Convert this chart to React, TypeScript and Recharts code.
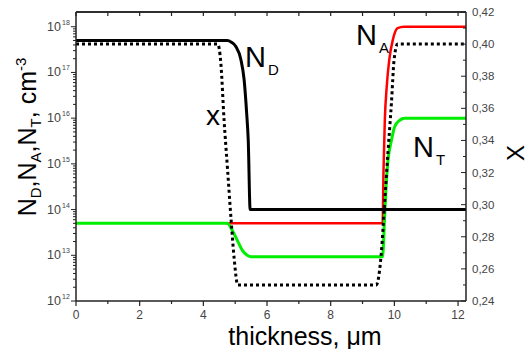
import { LineChart, Line, XAxis, YAxis } from "recharts";

// thickness (um) vs concentration (cm^-3)
const ND = [
  { x: 0, v: 5e17 },
  { x: 4.75, v: 5e17 },
  { x: 4.88, v: 4.6e17 },
  { x: 5.02, v: 3.7e17 },
  { x: 5.18, v: 1.9e17 },
  { x: 5.28, v: 7e16 },
  { x: 5.36, v: 1.3e16 },
  { x: 5.41, v: 3.3e15 },
  { x: 5.47, v: 1e14 },
  { x: 12.25, v: 1e14 },
];

const NA = [
  { x: 4.7, v: 5e13 },
  { x: 9.63, v: 5e13 },
  { x: 9.66, v: 7.4e14 },
  { x: 9.7, v: 9e15 },
  { x: 9.76, v: 4.9e16 },
  { x: 9.84, v: 1.9e17 },
  { x: 9.95, v: 5.1e17 },
  { x: 10.1, v: 9.3e17 },
  { x: 10.3, v: 1e18 },
  { x: 12.25, v: 1e18 },
];

const NT = [
  { x: 0, v: 5e13 },
  { x: 4.75, v: 5e13 },
  { x: 4.91, v: 3.5e13 },
  { x: 5.07, v: 2.1e13 },
  { x: 5.22, v: 1.3e13 },
  { x: 5.38, v: 1e13 },
  { x: 5.49, v: 9.3e12 },
  { x: 9.63, v: 9.3e12 },
  { x: 9.69, v: 5.9e13 },
  { x: 9.74, v: 3.2e14 },
  { x: 9.8, v: 1.2e15 },
  { x: 9.91, v: 3.3e15 },
  { x: 10.01, v: 6.5e15 },
  { x: 10.17, v: 9e15 },
  { x: 10.32, v: 1e16 },
  { x: 12.25, v: 1e16 },
];

// composition X (right axis)
const XC = [
  { x: 0, v: 0.4 },
  { x: 4.45, v: 0.4 },
  { x: 4.55, v: 0.388 },
  { x: 4.65, v: 0.353 },
  { x: 4.76, v: 0.322 },
  { x: 4.87, v: 0.291 },
  { x: 4.97, v: 0.266 },
  { x: 5.08, v: 0.25 },
  { x: 9.43, v: 0.25 },
  { x: 9.59, v: 0.27 },
  { x: 9.69, v: 0.3 },
  { x: 9.8, v: 0.333 },
  { x: 9.91, v: 0.364 },
  { x: 9.99, v: 0.39 },
  { x: 10.1, v: 0.4 },
  { x: 12.25, v: 0.4 },
];

const X_TICKS = [0, 1, 2, 3, 4, 5, 6, 7, 8, 9, 10, 11, 12];
const LEFT_EXPONENTS = [12, 13, 14, 15, 16, 17, 18];
const RIGHT_TICKS = [
  0.24, 0.25, 0.26, 0.27, 0.28, 0.29, 0.3, 0.31, 0.32, 0.33, 0.34, 0.35, 0.36,
  0.37, 0.38, 0.39, 0.4, 0.41, 0.42,
];
const X_MAX = 12.25;
const X_TOP = 0.42;

const leftTicks = LEFT_EXPONENTS.flatMap((e) =>
  e === 18 ? [1e18] : [1, 2, 3, 4, 5, 6, 7, 8, 9].map((m) => m * Math.pow(10, e))
);

const AXIS = "#222";
const TICK_TEXT = "#444";
const FONT = "'Liberation Sans', Arial, sans-serif";

// plot box (set by the margins and axis sizes below)
const PLOT_LEFT = 76;
const PLOT_RIGHT = 466;
const PLOT_TOP = 12;

function BottomTick({ x, y, payload }: any) {
  const v = payload.value;
  const major = v % 2 === 0;
  return (
    <g>
      <line x1={x} x2={x} y1={y} y2={y + (major ? 5 : 3)} stroke={AXIS} strokeWidth={1.2} />
      {major && (
        <text x={x} y={y + 18} textAnchor="middle" fontSize={12} fill={TICK_TEXT} fontFamily={FONT}>
          {v}
        </text>
      )}
    </g>
  );
}

function TopTick({ x, y }: any) {
  return <line x1={x} x2={x} y1={y} y2={y + 4} stroke={AXIS} strokeWidth={1.2} />;
}

function LeftTick({ x, y, payload }: any) {
  const e = Math.log10(payload.value);
  const major = Math.abs(e - Math.round(e)) < 1e-6;
  return (
    <g>
      <line x1={x - (major ? 5 : 3)} x2={x} y1={y} y2={y} stroke={AXIS} strokeWidth={1} />
      {major && (
        <text fontFamily={FONT} fill={TICK_TEXT}>
          <tspan x={x - 15} y={y + 4} textAnchor="end" fontSize={12.5}>
            10
          </tspan>
          <tspan x={x - 14} y={y - 2} fontSize={7}>
            {Math.round(e)}
          </tspan>
        </text>
      )}
    </g>
  );
}

function RightTick({ x, y, payload }: any) {
  const v = payload.value;
  const major = Math.round(v * 100) % 2 === 0;
  return (
    <g>
      <line x1={x - (major ? 5 : 3)} x2={x} y1={y} y2={y} stroke={AXIS} strokeWidth={1} />
      {major && (
        <text x={x + 6} y={y + 4} fontSize={11.5} fill={TICK_TEXT} fontFamily={FONT}>
          {v.toFixed(2).replace(".", ",")}
        </text>
      )}
    </g>
  );
}

export default function App() {
  return (
    <div style={{ position: "absolute", left: 0, top: 0, width: 531, height: 349, background: "#fff" }}>
      <LineChart width={531} height={349} margin={{ top: 0, right: 0, bottom: 0, left: 0 }}>
        <XAxis
          xAxisId="bottom"
          type="number"
          dataKey="x"
          domain={[0, X_MAX]}
          allowDataOverflow
          ticks={X_TICKS}
          interval={0}
          height={48}
          tickSize={0}
          tickMargin={0}
          tickLine={false}
          tick={BottomTick}
          axisLine={{ stroke: AXIS, strokeWidth: 1.5 }}
        />
        <XAxis
          xAxisId="top"
          orientation="top"
          type="number"
          dataKey="x"
          domain={[0, X_MAX]}
          allowDataOverflow
          ticks={X_TICKS}
          interval={0}
          height={PLOT_TOP}
          tickSize={0}
          tickMargin={0}
          tickLine={false}
          tick={TopTick}
          axisLine={{ stroke: AXIS, strokeWidth: 1.5 }}
        />
        <YAxis
          yAxisId="left"
          type="number"
          scale="log"
          domain={[1e12, 2.1e18]}
          allowDataOverflow
          ticks={leftTicks}
          interval={0}
          width={PLOT_LEFT}
          tickSize={0}
          tickMargin={0}
          tickLine={false}
          tick={LeftTick}
          axisLine={{ stroke: AXIS, strokeWidth: 1.5 }}
        />
        <YAxis
          yAxisId="right"
          orientation="right"
          type="number"
          domain={[0.24, X_TOP]}
          allowDataOverflow
          ticks={RIGHT_TICKS}
          interval={0}
          width={531 - PLOT_RIGHT}
          tickSize={0}
          tickMargin={0}
          tickLine={false}
          tick={RightTick}
          axisLine={{ stroke: AXIS, strokeWidth: 1.5 }}
        />
        <Line data={NA} dataKey="v" xAxisId="bottom" yAxisId="left" type="monotone" stroke="#ff0000" strokeWidth={2.5} dot={false} isAnimationActive={false} />
        <Line data={NT} dataKey="v" xAxisId="bottom" yAxisId="left" type="monotone" stroke="#00ee00" strokeWidth={3} dot={false} isAnimationActive={false} />
        <Line data={ND} dataKey="v" xAxisId="bottom" yAxisId="left" type="monotone" stroke="#000" strokeWidth={3} dot={false} isAnimationActive={false} />
        <Line data={XC} dataKey="v" xAxisId="top" yAxisId="right" type="monotone" stroke="#000" strokeWidth={3} strokeDasharray="3 3" dot={false} isAnimationActive={false} />
      </LineChart>
      <svg
        width={531}
        height={349}
        style={{ position: "absolute", left: 0, top: 0, pointerEvents: "none" }}
        fontFamily={FONT}
      >
        {/* top edge of the frame */}
        <line x1={PLOT_LEFT} x2={PLOT_RIGHT} y1={PLOT_TOP} y2={PLOT_TOP} stroke={AXIS} strokeWidth={1.5} />
        <text x={305} y={345} textAnchor="middle" fontSize={25} fill="#000">
          thickness, μm
        </text>
        <text transform="translate(36,137) rotate(-90)" textAnchor="middle" fontSize={25} fill="#000">
          N<tspan dy={5} fontSize={15}>D</tspan>
          <tspan dy={-5}>,N</tspan>
          <tspan dy={5} fontSize={15}>A</tspan>
          <tspan dy={-5}>,N</tspan>
          <tspan dy={5} fontSize={15}>T</tspan>
          <tspan dy={-5}>, cm</tspan>
          <tspan dy={-10} fontSize={15}>-3</tspan>
        </text>
        <text transform="translate(524,153) rotate(-90)" textAnchor="middle" fontSize={24} fill="#000">
          X
        </text>
        <text x={245} y={67} fontSize={29} fill="#000">N</text>
        <text x={268} y={75} fontSize={15} fill="#000">D</text>
        <text x={356} y={45} fontSize={29} fill="#000">N</text>
        <text x={379} y={53} fontSize={15} fill="#000">A</text>
        <text x={413} y={157} fontSize={29} fill="#000">N</text>
        <text x={436} y={165} fontSize={15} fill="#000">T</text>
        <text x={206} y={125} fontSize={28} fill="#000">x</text>
      </svg>
    </div>
  );
}
